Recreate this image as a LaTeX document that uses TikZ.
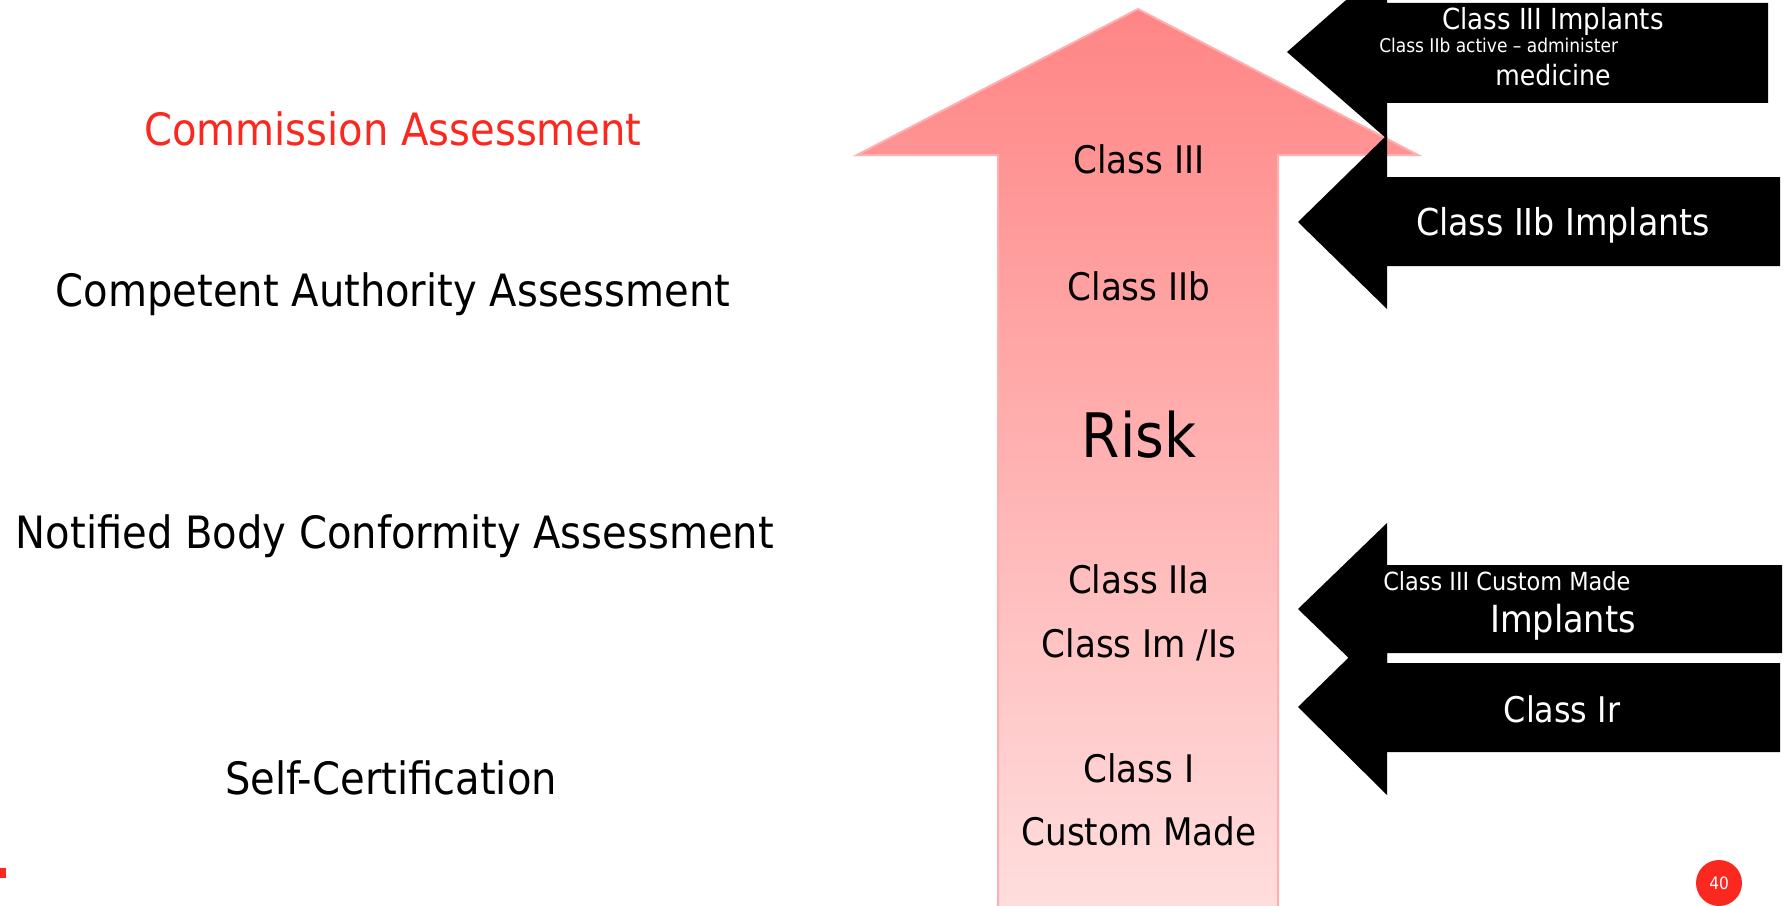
\documentclass[tikz,border=0pt]{standalone}
\usepackage{fontspec}
\setmainfont{DejaVu Sans Condensed}
\usepackage{xcolor}
\usepackage{tikz}

\definecolor{riskTop}{RGB}{255,133,133}
\definecolor{riskBottom}{RGB}{255,222,222}
\definecolor{riskEdge}{RGB}{255,175,175}
\definecolor{slideRed}{RGB}{250,40,30}

\begin{document}
\begin{tikzpicture}[x=0.75pt,y=0.75pt,yscale=-1,xscale=1,
  sidetext/.style={anchor=base,inner sep=0.75pt,font=\fontsize{33.4}{40}\selectfont},
  classtext/.style={anchor=base,inner sep=0.75pt,font=\fontsize{28.5}{34}\selectfont},
  implanttext/.style={anchor=base,inner sep=0.75pt,text=white}]
\clip (0,0) rectangle (1785,906);
\fill [white] (0,0) rectangle (1785,906);

%Shape: Up Arrow [id:risk]
\shade [top color=riskTop, bottom color=riskBottom, draw=riskEdge, line width=1.5] (1138,9) -- (1418,155) -- (1278,155) -- (1278,912) -- (998,912) -- (998,155) -- (857,155) -- cycle ;

%Shape: Left Arrow [id:implants3]
\fill [black] (1287,52) -- (1387,-36) -- (1387,3) -- (1768,3) -- (1768,103) -- (1387,103) -- (1387,139) -- cycle ;
%Shape: Left Arrow [id:implants2b]
\fill [black] (1298,222) -- (1387,135) -- (1387,177) -- (1780,177) -- (1780,266) -- (1387,266) -- (1387,309) -- cycle ;
%Shape: Left Arrow [id:custom3]
\fill [black] (1298,609) -- (1387,523) -- (1387,565) -- (1782,565) -- (1782,653) -- (1387,653) -- (1387,695) -- cycle ;
%Shape: Left Arrow [id:classIr]
\fill [black] (1298,707) -- (1387,620) -- (1387,663) -- (1780,663) -- (1780,752) -- (1387,752) -- (1387,795) -- cycle ;

%Shape: Rectangle [id:edgemark]
\fill [slideRed] (0,868) rectangle (6,878) ;

% Text Node
\draw (393,145) node (commission) [sidetext,text=slideRed] {Commission Assessment};
% Text Node
\draw (393,306) node (competent) [sidetext] {Competent Authority Assessment};
% Text Node
\draw (395,548) node (notified) [sidetext] {Notified Body Conformity Assessment};
% Text Node
\draw (391,794) node (selfcert) [sidetext] {Self-Certification};

% Text Node
\draw (1139,173) node (cIII) [classtext] {Class III};
% Text Node
\draw (1139,300) node (cIIb) [classtext] {Class IIb};
% Text Node
\draw (1139,457) node (risk) [anchor=base,inner sep=0.75pt,font=\fontsize{46}{54}\selectfont] {Risk};
% Text Node
\draw (1139,593) node (cIIa) [classtext] {Class IIa};
% Text Node
\draw (1139,657) node (cIm) [classtext] {Class Im /Is};
% Text Node
\draw (1139,782) node (cI) [classtext] {Class I};
% Text Node
\draw (1139,845) node (custom) [classtext] {Custom Made};

% Text Node
\draw (1553,30) node (impIII) [implanttext,font=\fontsize{21.75}{26}\selectfont] {Class III Implants};
% Text Node
\draw (1378,53) node (active) [implanttext,anchor=base west,font=\fontsize{14.2}{17}\selectfont] {Class IIb active – administer};
% Text Node
\draw (1553,86) node (medicine) [implanttext,font=\fontsize{21}{25}\selectfont] {medicine};
% Text Node
\draw (1563,235) node (impIIb) [implanttext,font=\fontsize{27.75}{33}\selectfont] {Class IIb Implants};
% Text Node
\draw (1382,590) node (custIII) [implanttext,anchor=base west,font=\fontsize{18.7}{22}\selectfont] {Class III Custom Made};
% Text Node
\draw (1563,632) node (custImp) [implanttext,font=\fontsize{28}{33}\selectfont] {Implants};
% Text Node
\draw (1562,722) node (ir) [implanttext,font=\fontsize{26.5}{32}\selectfont] {Class Ir};

% Page number
\draw (1719,883) node (pagenum) [circle,fill=slideRed,minimum size=34.5pt,inner sep=0pt,text=white,font=\fontsize{12.8}{15}\selectfont] {40};
\end{tikzpicture}
\end{document}
